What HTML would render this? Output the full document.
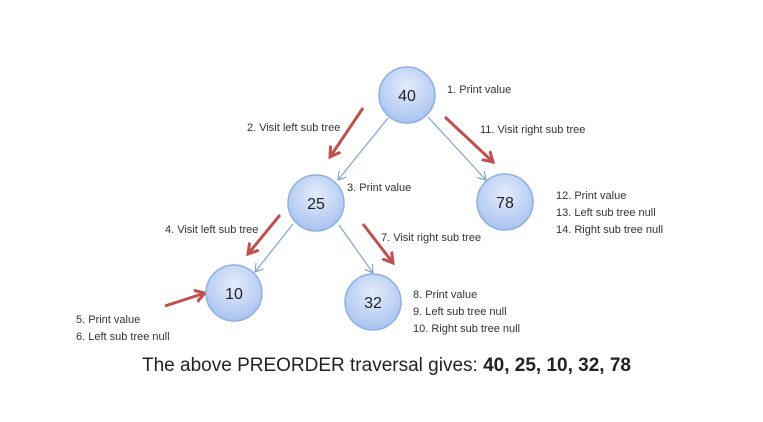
<!DOCTYPE html>
<html><head><style>
body{margin:0;background:#fff;width:763px;height:417px;overflow:hidden;font-family:"Liberation Sans",sans-serif}
</style></head><body>
<svg width="763" height="417" xmlns="http://www.w3.org/2000/svg">
<defs>
<radialGradient id="g" cx="50%" cy="35%" r="65%">
<stop offset="0" stop-color="#e4ecfb"/><stop offset="1" stop-color="#a9c3f0"/></radialGradient>
<marker id="b" markerWidth="10" markerHeight="10" refX="8" refY="5" orient="auto" markerUnits="userSpaceOnUse"><path d="M0,0 L8,5 L0,10" fill="none" stroke="#6f97d3" stroke-width="1"/></marker>
<marker id="r" markerWidth="14" markerHeight="14" refX="10" refY="7" orient="auto" markerUnits="userSpaceOnUse"><path d="M0,1 L10,7 L0,13" fill="none" stroke="#c0504d" stroke-width="3"/></marker>
</defs>
<g stroke="#7fa3d8" stroke-width="1.2" fill="none">
<line x1="388" y1="118" x2="338" y2="180" marker-end="url(#b)"/>
<line x1="428" y1="117" x2="486" y2="180" marker-end="url(#b)"/>
<line x1="293" y1="224" x2="255" y2="272" marker-end="url(#b)"/>
<line x1="339" y1="225" x2="373" y2="273" marker-end="url(#b)"/>
</g>
<g stroke="#c0504d" stroke-width="3" fill="none">
<line x1="363" y1="108" x2="330" y2="157" marker-end="url(#r)"/>
<line x1="445" y1="117" x2="493" y2="162" marker-end="url(#r)"/>
<line x1="280" y1="215" x2="248" y2="254" marker-end="url(#r)"/>
<line x1="363" y1="224" x2="393" y2="263" marker-end="url(#r)"/>
<line x1="165" y1="306" x2="205" y2="293" marker-end="url(#r)"/>
</g>
<g fill="url(#g)" stroke="#8eb0e3" stroke-width="1.5">
<circle cx="407" cy="95" r="28"/>
<circle cx="316" cy="203" r="28"/>
<circle cx="505" cy="202" r="28"/>
<circle cx="234" cy="293" r="28"/>
<circle cx="373" cy="302" r="28"/>
</g>
<g font-size="16" fill="#222" text-anchor="middle">
<text x="407" y="101">40</text><text x="316" y="209">25</text><text x="505" y="208">78</text>
<text x="234" y="299">10</text><text x="373" y="308">32</text>
</g>
<g font-size="11" fill="#333">
<text x="447" y="93">1. Print value</text>
<text x="247" y="131">2. Visit left sub tree</text>
<text x="480" y="133">11. Visit right sub tree</text>
<text x="347" y="191">3. Print value</text>
<text x="556" y="199">12. Print value</text>
<text x="556" y="216">13. Left sub tree null</text>
<text x="556" y="233">14. Right sub tree null</text>
<text x="165" y="233">4. Visit left sub tree</text>
<text x="381" y="241">7. Visit right sub tree</text>
<text x="413" y="298">8. Print value</text>
<text x="413" y="315">9. Left sub tree null</text>
<text x="413" y="332">10. Right sub tree null</text>
<text x="76" y="323">5. Print value</text>
<text x="76" y="340">6. Left sub tree null</text>
</g>
<text x="142" y="371" font-size="19" fill="#222">The above PREORDER traversal gives: <tspan font-weight="bold">40, 25, 10, 32, 78</tspan></text>
</svg>
</body></html>
